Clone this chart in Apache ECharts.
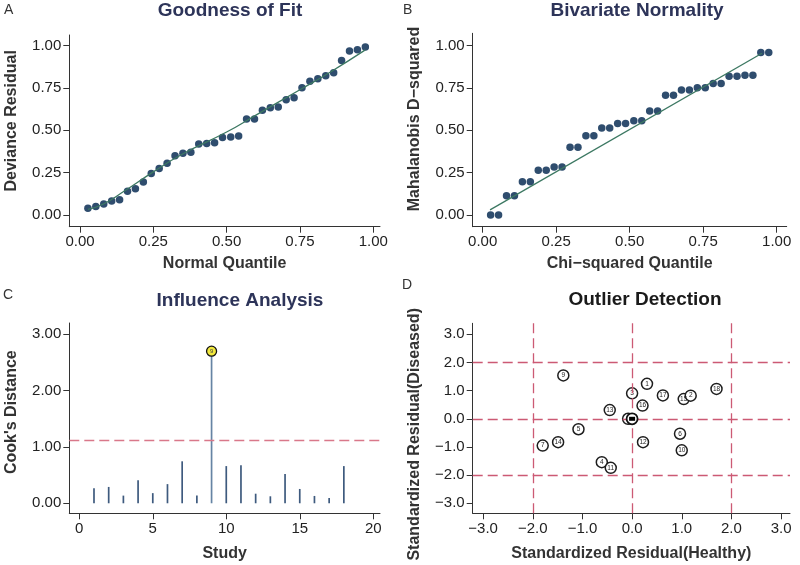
<!DOCTYPE html>
<html>
<head>
<meta charset="utf-8">
<script src="https://cdn.jsdelivr.net/npm/echarts@6/dist/echarts.min.js"></script>
<style>html,body{margin:0;padding:0;background:#fff}#c{width:800px;height:565px}</style>
</head>
<body>
<div id="c"></div>
<script>
// ---- Data ----
const quantiles = [0.027,0.054,0.081,0.108,0.135,0.162,0.189,0.216,0.243,0.270,0.297,0.324,0.351,0.378,0.405,0.432,0.459,0.486,0.514,0.541,0.568,0.595,0.622,0.649,0.676,0.703,0.730,0.757,0.784,0.811,0.838,0.865,0.892,0.919,0.946,0.973];
const devianceResidual = [0.04,0.05,0.065,0.083,0.09,0.14,0.155,0.195,0.245,0.275,0.305,0.35,0.365,0.37,0.42,0.423,0.427,0.457,0.46,0.467,0.567,0.567,0.618,0.634,0.638,0.68,0.693,0.752,0.79,0.805,0.823,0.84,0.913,0.968,0.976,0.992];
const fitLineA = [[0.027,0.033],[0.08,0.065],[0.15,0.14],[0.25,0.255],[0.35,0.36],[0.5,0.49],[0.6,0.59],[0.75,0.74],[0.85,0.84],[0.973,0.975]];
const mahalanobis = [0,0,0.114,0.114,0.197,0.197,0.264,0.264,0.283,0.283,0.40,0.40,0.468,0.468,0.514,0.514,0.54,0.54,0.557,0.557,0.614,0.614,0.707,0.707,0.738,0.738,0.752,0.752,0.776,0.776,0.82,0.82,0.825,0.825,0.96,0.96];
const fitLineB = [[0.025,0.03],[0.95,0.955]];
const studies = [1,2,3,4,5,6,7,8,9,10,11,12,13,14,15,16,17,18];
const cooksDistance = [0.266,0.29,0.136,0.41,0.18,0.34,0.745,0.136,2.70,0.66,0.675,0.17,0.124,0.52,0.254,0.13,0.095,0.66];
const cooksThreshold = 1.107;
const outlierLabels = ['9','1','3','17','15','2','18','16','13','8','5','7','14','4','11','12','6','10'];
const residHealthy = [-1.385,0.30,0.0,0.62,1.04,1.18,1.70,0.21,-0.45,-0.08,-1.08,-1.80,-1.49,-0.61,-0.43,0.22,0.965,1.00];
const residDiseased = [1.54,1.24,0.905,0.83,0.70,0.82,1.06,0.47,0.31,0.0,-0.37,-0.95,-0.83,-1.54,-1.74,-0.83,-0.53,-1.12];
const meanPoint = [0.0, 0.0];
const ticks01 = [0,0.25,0.5,0.75,1];
const ticksStudy = [0,5,10,15,20];
const ticksCook = [0,1,2,3];
const ticksResid = [-3,-2,-1,0,1,2,3];
const cutoffs = [-2,0,2];

// ---- Styles ----
const FONT = "'Liberation Sans', Arial, sans-serif";
const navy = '#2d3459';
const axisCol = '#333';
function fmt(d){return v => { const s = Math.abs(v).toFixed(d); return v < -1e-9 ? '\u2212' + s : s; };}
function axis(gridIndex, min, max, vals, dec, name, gap, isY, pad){
  return {
    type:'value', gridIndex, min, max, name, nameLocation:'middle', nameGap:gap,
    nameTextStyle:{fontFamily:FONT,fontSize:16,fontWeight:'bold',color:axisCol,padding:pad||0},
    splitLine:{show:false},
    axisLine:{show:true,onZero:false,lineStyle:{color:axisCol,width:1}},
    axisTick:{show:true,length:6,customValues:vals,lineStyle:{color:axisCol}},
    axisLabel:{customValues:vals,formatter:fmt(dec),fontFamily:FONT,fontSize:15,color:'#222',margin:8},
  };
}
const tStyle = (c)=>({fontFamily:FONT,fontSize:19,fontWeight:'bold',color:c});
const lStyle = {fontFamily:FONT,fontSize:14,fontWeight:'normal',color:'#333'};
const titles = [
  {text:'Goodness of Fit',left:230,top:1,padding:0,textAlign:'center',textStyle:tStyle(navy)},
  {text:'Bivariate Normality',left:637,top:1,padding:0,textAlign:'center',textStyle:tStyle(navy)},
  {text:'Influence Analysis',left:240,top:291,padding:0,textAlign:'center',textStyle:tStyle(navy)},
  {text:'Outlier Detection',left:645,top:290,padding:0,textAlign:'center',textStyle:tStyle('#1a1a1a')},
  {text:'A',left:4,top:3,padding:0,textStyle:lStyle},
  {text:'B',left:403,top:3,padding:0,textStyle:lStyle},
  {text:'C',left:3,top:288,padding:0,textStyle:lStyle},
  {text:'D',left:402,top:278,padding:0,textStyle:lStyle},
];
const dash = (color)=>({color, width:1.3, type:[10,5]});

const option = {
  animation:false,
  backgroundColor:'#fff',
  title:titles,
  grid:[
    {left:69.3,top:35,width:310.7,height:191.7},
    {left:472.7,top:33.3,width:314,height:193.4},
    {left:69.3,top:323,width:310.7,height:190.3},
    {left:472.7,top:323.3,width:317.3,height:190},
  ],
  xAxis:[
    axis(0,-0.0365,1.023,ticks01,2,'Normal Quantile',29),
    axis(1,-0.034,1.034,ticks01,2,'Chi\u2212squared Quantile',29),
    axis(2,-0.68,20.46,ticksStudy,0,'Study',32),
    axis(3,-3.21,3.18,ticksResid,1,'Standardized Residual(Healthy)',32),
  ],
  yAxis:[
    axis(0,-0.069,1.063,ticks01,2,'Deviance Residual',50,true,[0,0,0,20]),
    axis(1,-0.069,1.073,ticks01,2,'Mahalanobis D\u2212squared',50,true,[0,0,0,22]),
    axis(2,-0.178,3.2,ticksCook,2,"Cook's Distance",50,true,[0,0,0,12]),
    axis(3,-3.355,3.39,ticksResid,1,'Standardized Residual(Diseased)',50,true,[0,32,0,0]),
  ],
  series:[
    {type:'line',xAxisIndex:0,yAxisIndex:0,data:fitLineA,smooth:true,symbol:'none',lineStyle:{color:'#3c7862',width:1.3},z:3},
    {type:'scatter',xAxisIndex:0,yAxisIndex:0,data:quantiles.map((q,i)=>[q,devianceResidual[i]]),symbolSize:7.5,itemStyle:{color:'#2f4d6e',opacity:1},z:2},
    {type:'line',xAxisIndex:1,yAxisIndex:1,data:fitLineB,symbol:'none',lineStyle:{color:'#3c7862',width:1.3},z:3},
    {type:'scatter',xAxisIndex:1,yAxisIndex:1,data:quantiles.map((q,i)=>[q,mahalanobis[i]]),symbolSize:7.5,itemStyle:{color:'#2f4d6e',opacity:1},z:2},
    {type:'bar',xAxisIndex:2,yAxisIndex:2,barWidth:1.7,
      data:studies.map((s,i)=> s===9 ? {value:[s,cooksDistance[i]],itemStyle:{color:'#6684a4'}} : [s,cooksDistance[i]]),
      itemStyle:{color:'#3e5a7e'},
      markLine:{silent:true,symbol:'none',label:{show:false},lineStyle:dash('#d9788a'),data:[{yAxis:cooksThreshold}]}},
    {type:'scatter',xAxisIndex:2,yAxisIndex:2,data:studies.filter(s=>cooksDistance[s-1]>cooksThreshold).map(s=>({value:[s,cooksDistance[s-1]],name:String(s)})),
      symbolSize:10,itemStyle:{color:'#f1e83e',borderColor:'#111',borderWidth:1.3,opacity:1},
      label:{show:true,position:'inside',formatter:p=>p.name,fontSize:6,color:'#444',fontFamily:FONT},z:5},
    {type:'line',xAxisIndex:3,yAxisIndex:3,data:[],
      markLine:{silent:true,symbol:'none',label:{show:false},lineStyle:dash('#cc5a74'),
        data:cutoffs.map(c=>({xAxis:c})).concat(cutoffs.map(c=>({yAxis:c})))},z:1},
    {type:'scatter',xAxisIndex:3,yAxisIndex:3,data:residHealthy.map((x,i)=>({value:[x,residDiseased[i]],name:outlierLabels[i]})),
      symbolSize:11,itemStyle:{color:'#fff',borderColor:'#1e1e1e',borderWidth:1.5,opacity:1},
      label:{show:true,position:'inside',formatter:p=>p.name,fontSize:6.5,color:'#222',fontFamily:FONT},z:4},
    {type:'scatter',xAxisIndex:3,yAxisIndex:3,data:[meanPoint],symbolSize:11,itemStyle:{color:'#fff',borderColor:'#111',borderWidth:1.8,opacity:1},z:5},
    {type:'scatter',xAxisIndex:3,yAxisIndex:3,data:[meanPoint],symbol:'rect',symbolSize:[6,4],itemStyle:{color:'#000',opacity:1},z:6},
  ]
};
const chart = echarts.init(document.getElementById('c'),null,{renderer:'canvas'});
chart.setOption(option);
</script>
</body>
</html>
